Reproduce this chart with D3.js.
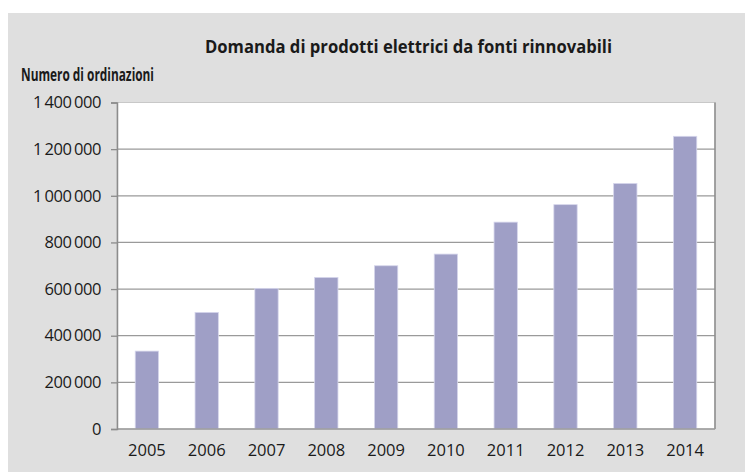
<!DOCTYPE html>
<html>
<head>
<meta charset="utf-8">
<script src="https://cdn.jsdelivr.net/npm/d3@7"></script>
<style>
  body { margin: 0; background: #fff; }
  text { font-family: "Open Sans", "Noto Sans", sans-serif; fill: #1a1a1a; }
</style>
</head>
<body>
<div id="chart"></div>
<script>
// Data
const years = ["2005", "2006", "2007", "2008", "2009", "2010", "2011", "2012", "2013", "2014"];
const orders = [334000, 500000, 603000, 650000, 700000, 750000, 887000, 962000, 1053000, 1255000];
const yTicks = [0, 200000, 400000, 600000, 800000, 1000000, 1200000, 1400000];
const titleText = "Domanda di prodotti elettrici da fonti rinnovabili";
const yTitleText = "Numero di ordinazioni";

const W = 745, H = 472;
const margin = { top: 102.5, right: 30, bottom: 43, left: 117 };
const width = W - margin.left - margin.right;
const height = H - margin.top - margin.bottom;

const svg = d3.select("#chart").append("svg")
    .attr("width", W)
    .attr("height", H);

// grey panel
svg.append("rect")
    .attr("x", 8).attr("y", 13)
    .attr("width", W - 8).attr("height", H - 13)
    .attr("fill", "#dfdfdf");

const g = svg.append("g")
    .attr("transform", "translate(" + margin.left + "," + margin.top + ")");

// Scales
const x = d3.scaleBand()
    .domain(years)
    .range([0, width])
    .paddingInner(0.61)
    .paddingOuter(0.305);

const y = d3.scaleLinear()
    .domain([0, 1400000])
    .range([height, 0]);

const fmt = d3.formatLocale({ decimal: ",", thousands: "\u2009", grouping: [3], currency: ["", "€"] }).format(",d");

// plot background
g.append("rect")
    .attr("width", width)
    .attr("height", height)
    .attr("fill", "#fff")
    .attr("stroke", "#c8c8c8")
    .attr("stroke-width", 1);

// gridlines
g.append("g")
    .selectAll("line")
    .data(yTicks.slice(1, -1))
    .join("line")
    .attr("x1", 0).attr("x2", width)
    .attr("y1", d => y(d)).attr("y2", d => y(d))
    .attr("stroke", "#9a9a9a")
    .attr("stroke-width", 1.3);

// bars
g.selectAll(".bar")
    .data(orders)
    .join("rect")
    .attr("class", "bar")
    .attr("x", (d, i) => x(years[i]))
    .attr("y", d => y(d))
    .attr("width", x.bandwidth())
    .attr("height", d => height - y(d))
    .attr("fill", "#9f9fc6")
    .attr("stroke", "#d6d6ec")
    .attr("stroke-width", 0.8);

// right and bottom borders
g.append("line")
    .attr("x1", width).attr("x2", width)
    .attr("y1", 0).attr("y2", height)
    .attr("stroke", "#8c8c8c").attr("stroke-width", 1.5);
g.append("line")
    .attr("x1", 0).attr("x2", width)
    .attr("y1", height).attr("y2", height)
    .attr("stroke", "#9a9a9a").attr("stroke-width", 1.3);

// y axis
const yAxis = d3.axisLeft(y)
    .tickValues(yTicks)
    .tickFormat(fmt)
    .tickSize(6)
    .tickPadding(10);

const yG = g.append("g").call(yAxis);
yG.select(".domain").attr("stroke", "#8c8c8c").attr("stroke-width", 1.5);
yG.selectAll(".tick line").attr("stroke", "#8c8c8c").attr("stroke-width", 1.3);
yG.selectAll(".tick text")
    .attr("font-size", 16.5)
    .attr("letter-spacing", -0.4)
    .style("font-family", "\"Open Sans\", sans-serif")
    .attr("fill", "#1a1a1a");

// x axis
const xAxis = d3.axisBottom(x).tickSize(0).tickPadding(15);
const xG = g.append("g")
    .attr("transform", "translate(0," + height + ")")
    .call(xAxis);
xG.select(".domain").remove();
xG.selectAll(".tick text")
    .attr("font-size", 16.5)
    .style("font-family", "\"Open Sans\", sans-serif")
    .attr("fill", "#1a1a1a");

// titles
svg.append("text")
    .attr("x", 205).attr("y", 53)
    .attr("font-size", 18.5)
    .attr("font-weight", "bold")
    .attr("textLength", 407)
    .attr("lengthAdjust", "spacingAndGlyphs")
    .text(titleText);

svg.append("text")
    .attr("x", 21).attr("y", 81)
    .attr("font-size", 17.5)
    .attr("font-weight", "bold")
    .attr("textLength", 133)
    .attr("lengthAdjust", "spacingAndGlyphs")
    .text(yTitleText);
</script>
</body>
</html>
